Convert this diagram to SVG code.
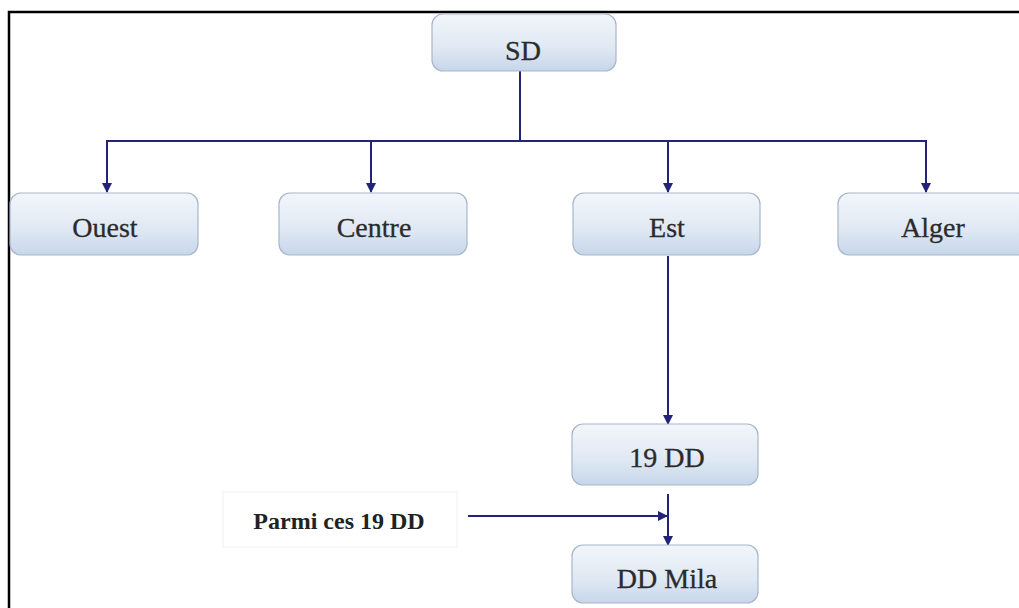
<svg xmlns="http://www.w3.org/2000/svg" width="1019" height="608" viewBox="0 0 1019 608">
  <defs>
    <linearGradient id="boxFill" x1="0" y1="0" x2="0" y2="1">
      <stop offset="0" stop-color="#f2f6fb"/>
      <stop offset="0.6" stop-color="#dfe8f3"/>
      <stop offset="1" stop-color="#c6d6ea"/>
    </linearGradient>
    <marker id="arrow" viewBox="0 0 10 10" refX="9" refY="5" markerWidth="5" markerHeight="5" orient="auto">
      <path d="M0,0 L10,5 L0,10 z" fill="#23237a"/>
    </marker>
    <style>
      .box { fill: url(#boxFill); stroke: #a7b6ca; stroke-width: 1.2; }
      .label { font-family: "Liberation Serif", "Times New Roman", serif; font-size: 28px; fill: #2b2b2b; text-anchor: middle; stroke: #2b2b2b; stroke-width: 0.3; }
      .conn { fill: none; stroke: #23237a; stroke-width: 2; }
      .frame { stroke: #000; stroke-width: 2.5; fill: none; }
    </style>
  </defs>

  <rect width="1019" height="608" fill="#fff"/>

  <!-- page frame (top and left edges) -->
  <path class="frame" d="M9,608 V12 H1019"/>

  <!-- connectors -->
  <g id="connectors">
    <line class="conn" x1="520" y1="71" x2="520" y2="141"/>
    <line class="conn" x1="106" y1="141" x2="927" y2="141"/>
    <line class="conn" x1="107" y1="140" x2="107" y2="192" marker-end="url(#arrow)"/>
    <line class="conn" x1="371" y1="140" x2="371" y2="192" marker-end="url(#arrow)"/>
    <line class="conn" x1="668" y1="140" x2="668" y2="192" marker-end="url(#arrow)"/>
    <line class="conn" x1="926" y1="140" x2="926" y2="192" marker-end="url(#arrow)"/>
    <line class="conn" x1="668" y1="256" x2="668" y2="424" marker-end="url(#arrow)"/>
    <line class="conn" x1="668" y1="494" x2="668" y2="545" marker-end="url(#arrow)"/>
    <line class="conn" x1="468" y1="516" x2="667" y2="516" marker-end="url(#arrow)"/>
  </g>

  <g id="node-sd">
    <rect class="box" x="432" y="14" width="184" height="57" rx="11"/>
    <text class="label" x="523" y="60">SD</text>
  </g>
  <g id="node-ouest">
    <rect class="box" x="10" y="193" width="188" height="62" rx="11"/>
    <text class="label" x="105" y="237">Ouest</text>
  </g>
  <g id="node-centre">
    <rect class="box" x="279" y="193" width="188" height="62" rx="11"/>
    <text class="label" x="374" y="237">Centre</text>
  </g>
  <g id="node-est">
    <rect class="box" x="573" y="193" width="187" height="62" rx="11"/>
    <text class="label" x="667" y="237">Est</text>
  </g>
  <g id="node-alger">
    <rect class="box" x="838" y="193" width="190" height="62" rx="11"/>
    <text class="label" x="933" y="237">Alger</text>
  </g>
  <g id="node-19dd">
    <rect class="box" x="572" y="424" width="186" height="61" rx="11"/>
    <text class="label" x="667" y="467">19 DD</text>
  </g>
  <g id="node-ddmila">
    <rect class="box" x="572" y="545" width="186" height="58" rx="11"/>
    <text class="label" x="667" y="588">DD Mila</text>
  </g>
  <g id="note-parmi">
    <rect x="223" y="492" width="234" height="55" fill="#fff" stroke="#f0f0f0" stroke-width="1"/>
    <text x="339" y="529" font-family="Liberation Serif, Times New Roman, serif" font-size="24" font-weight="bold" fill="#222" text-anchor="middle">Parmi ces 19 DD</text>
  </g>
</svg>
